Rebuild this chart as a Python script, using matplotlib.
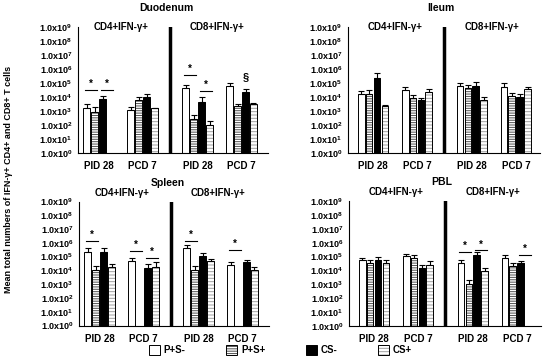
import matplotlib.pyplot as plt
import numpy as np
from matplotlib.patches import Patch
from matplotlib.legend_handler import HandlerTuple
from matplotlib.ticker import FixedLocator, FixedFormatter, NullLocator

plt.rcParams['font.family'] = ['Liberation Sans', 'DejaVu Sans']
plt.rcParams['font.weight'] = 'bold'
plt.rcParams['mathtext.fontset'] = 'custom'
plt.rcParams['mathtext.rm'] = 'Liberation Sans:bold'
plt.rcParams['mathtext.bf'] = 'Liberation Sans:bold'
plt.rcParams['hatch.linewidth'] = 0.7

# categories: CD4 PID 28, CD4 PCD 7, CD8 PID 28, CD8 PCD 7
cat_labels = ['PID 28', 'PCD 7', 'PID 28', 'PCD 7']
groups = ['P+S-', 'P+S+', 'CS-', 'CS+']
nan = np.nan

# rows follow groups order; "top" = upper end of the error bar
duodenum_mean = [[1.6e3, 1.2e3, 4.2e4, 6.5e4],
                 [8.0e2, 6.0e3, 2.7e2, 2.3e3],
                 [7.0e3, 1.07e4, 4.7e3, 2.3e4],
                 [nan, 1.6e3, 1.0e2, 3.2e3]]
duodenum_top = [[3.2e3, 2.0e3, 7.2e4, 1.0e5],
                [1.9e3, 9.5e3, 5.0e2, 3.2e3],
                [1.26e4, 1.6e4, 9.5e3, 3.5e4],
                [nan, 1.6e3, 2.0e2, 4.0e3]]
ileum_mean = [[1.55e4, 3.2e4, 6.2e4, 5.5e4],
              [1.65e4, 9.0e3, 4.2e4, 1.26e4],
              [2.4e5, 6.2e3, 6.1e4, 9.6e3],
              [2.1e3, 2.4e4, 6.2e3, 3.5e4]]
ileum_top = [[2.5e4, 5.5e4, 1.05e5, 9.5e4],
             [3.2e4, 1.4e4, 7.2e4, 1.95e4],
             [4.9e5, 9.0e3, 1.17e5, 1.55e4],
             [2.75e3, 3.5e4, 9.5e3, 4.9e4]]
spleen_mean = [[2.2e5, 5.0e4, 4.0e5, 2.4e4],
               [1.15e4, nan, 1.15e4, nan],
               [2.2e5, 1.5e4, 1.1e5, 4.0e4],
               [1.8e4, 1.8e4, 5.0e4, 1.15e4]]
spleen_top = [[4.0e5, 8.1e4, 6.9e5, 4.2e4],
              [2.0e4, nan, 2.0e4, nan],
              [4.0e5, 2.7e4, 1.9e5, 5.5e4],
              [2.7e4, 4.0e4, 6.3e4, 1.8e4]]
pbl_mean = [[6.0e4, 1.05e5, 3.5e4, 8.5e4],
            [3.2e4, 8.5e4, 1.0e3, 2.0e4],
            [5.5e4, 1.4e4, 1.2e5, 3.2e4],
            [3.5e4, 2.4e4, 8.9e3, nan]]
pbl_top = [[8.0e4, 1.6e5, 5.5e4, 1.4e5],
           [5.5e4, 1.26e5, 2.0e3, 3.5e4],
           [9.5e4, 2.4e4, 2.1e5, 4.9e4],
           [5.5e4, 4.9e4, 1.6e4, nan]]

# significance bars: (category, first bar, last bar, height)
duodenum_sig = [(0, 0, 1, 3.2e4), (0, 2, 3, 3.2e4), (2, 0, 1, 3.7e5), (2, 2, 3, 2.7e4)]
ileum_sig = []
spleen_sig = [(0, 0, 1, 1.35e6), (1, 0, 1, 2.5e5), (1, 2, 3, 8.0e4), (2, 0, 1, 1.35e6), (3, 0, 1, 3.0e5)]
pbl_sig = [(2, 0, 1, 2.1e5), (2, 2, 3, 2.8e5), (3, 2, 3, 1.26e5)]

cat_x = np.array([0, 1, 2.25, 3.25])
sep_x = 1.625
bw = 0.155
offsets = np.array([-1.5, -0.5, 0.5, 1.5]) * 0.18
faces = ['white', 'white', 'black', 'white']
hatches = [None, '-------', None, '-----']
hatch_cols = ['black', '#505050', 'black', '#a0a0a0']

fig = plt.figure(figsize=(5.5, 3.61), dpi=100)


def panel(rect, xlim, title, mean, top, sig, head_dy):
    ax = fig.add_axes(rect)
    ax.set_yscale('log')
    for g in range(4):
        xs = cat_x + offsets[g]
        m = np.array(mean[g], float)
        t = np.array(top[g], float)
        if hatches[g]:
            ax.bar(xs, m - 1, bottom=1, width=bw, color='white',
                   edgecolor=hatch_cols[g], hatch=hatches[g], linewidth=0)
            ax.bar(xs, m - 1, bottom=1, width=bw, fill=False,
                   edgecolor='black', linewidth=0.7)
        else:
            ax.bar(xs, m - 1, bottom=1, width=bw, color=faces[g],
                   edgecolor='black', linewidth=0.7)
        ax.errorbar(xs, m, yerr=[np.zeros(4), t - m], fmt='none',
                    ecolor='black', elinewidth=0.8, capsize=2, capthick=0.8)
    for c, i, j, y in sig:
        x0 = cat_x[c] + offsets[i] - bw * 0.3
        x1 = cat_x[c] + offsets[j] + bw * 0.3
        ax.plot([x0, x1], [y, y], color='black', lw=0.8)
        ax.text((x0 + x1) / 2, y * 1.15, '*', ha='center', va='bottom',
                fontsize=7)
    ax.axvline(sep_x, color='black', lw=2.5)
    ax.set_ylim(1, 1e9)
    ax.set_xlim(*xlim)
    ax.yaxis.set_major_locator(FixedLocator([10.0 ** k for k in range(10)]))
    ax.yaxis.set_major_formatter(FixedFormatter(
        [r'$\mathbf{1.0x10^{%d}}$' % k for k in range(10)]))
    ax.yaxis.set_minor_locator(NullLocator())
    ax.set_xticks(cat_x)
    ax.set_xticklabels(cat_labels, fontsize=7, fontweight='bold')
    ax.tick_params(axis='both', length=0)
    ax.tick_params(axis='y', labelsize=6.5, pad=4)
    ax.tick_params(axis='x', pad=6)
    for s in ['top', 'right']:
        ax.spines[s].set_visible(False)
    for s in ['left', 'bottom']:
        ax.spines[s].set_linewidth(0.8)
    ax.text(1.55, 1.15, title, transform=ax.get_xaxis_transform(),
            ha='center', va='center', fontsize=7.5, fontweight='bold')
    ax.text(0.5, 1.0 + head_dy, 'CD4+IFN-γ+', transform=ax.get_xaxis_transform(),
            ha='center', va='center', fontsize=7, fontweight='bold')
    ax.text(2.7, 1.0 + head_dy, 'CD8+IFN-γ+', transform=ax.get_xaxis_transform(),
            ha='center', va='center', fontsize=7, fontweight='bold')
    return ax


ax1 = panel([78 / 550, 1 - 153 / 361, 190 / 550, 126 / 361], (-0.47, 3.85),
            'Duodenum', duodenum_mean, duodenum_top, duodenum_sig, 0.0)
ax1.text(cat_x[3] + offsets[2], 1.2e5, '§', ha='center', va='bottom', fontsize=8)
panel([348 / 550, 1 - 153 / 361, 192 / 550, 126 / 361], (-0.57, 3.8),
      'Ileum', ileum_mean, ileum_top, ileum_sig, 0.0)
panel([79 / 550, 1 - 325.5 / 361, 190 / 550, 124 / 361], (-0.47, 3.85),
      'Spleen', spleen_mean, spleen_top, spleen_sig, 0.07)
panel([349 / 550, 1 - 326 / 361, 192 / 550, 125 / 361], (-0.57, 3.8),
      'PBL', pbl_mean, pbl_top, pbl_sig, 0.07)

fig.text(0.015, 0.504, 'Mean total numbers of IFN-γ+ CD4+ and CD8+ T cells',
         rotation=90, ha='center', va='center', fontsize=6.5, fontweight='bold')

handles = []
for g in range(4):
    if hatches[g]:
        handles.append((Patch(facecolor='white', edgecolor=hatch_cols[g],
                              hatch=hatches[g], linewidth=0),
                        Patch(fill=False, edgecolor='black', linewidth=0.7)))
    else:
        handles.append(Patch(facecolor=faces[g], edgecolor='black', linewidth=0.7))
fig.legend(handles, groups, handler_map={tuple: HandlerTuple(ndivide=1)},
           ncol=4, loc='center', bbox_to_anchor=(0.51, 0.03), frameon=False,
           fontsize=7, handlelength=1.1, handleheight=1.1, handletextpad=0.4,
           columnspacing=4.2)

fig.savefig('out.png', dpi=100)
